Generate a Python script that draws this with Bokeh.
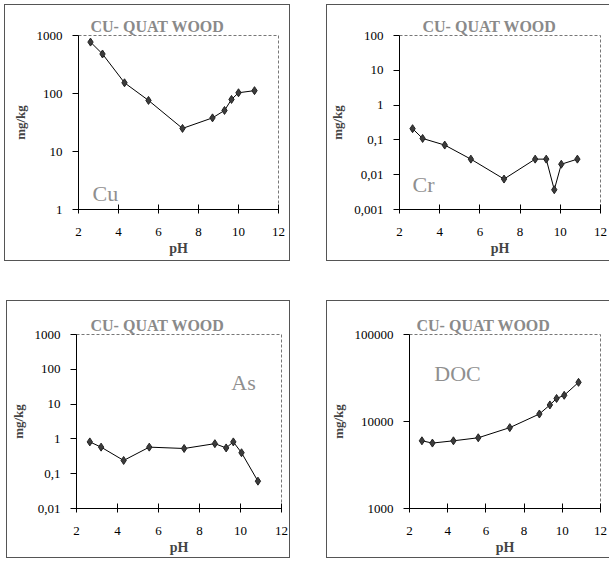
from bokeh.plotting import figure
from bokeh.layouts import column, row
from bokeh.models import Spacer, FixedTicker, Label
from bokeh.embed import file_html
from bokeh.resources import INLINE

TITLE = "CU- QUAT WOOD"
X_TICKS = [2, 4, 6, 8, 10, 12]

ph_cu = [2.6, 3.2, 4.3, 5.5, 7.2, 8.7, 9.3, 9.65, 10.0, 10.8]
cu = [770, 480, 153, 76, 25, 38, 51, 79, 103, 112]

ph_cr = [2.65, 3.15, 4.25, 5.55, 7.2, 8.75, 9.3, 9.7, 10.05, 10.85]
cr = [0.21, 0.11, 0.071, 0.028, 0.0075, 0.028, 0.028, 0.0037, 0.02, 0.028]

ph_as = [2.65, 3.2, 4.3, 5.55, 7.25, 8.75, 9.3, 9.65, 10.05, 10.85]
as_vals = [0.82, 0.58, 0.24, 0.58, 0.53, 0.73, 0.55, 0.82, 0.40, 0.061]

ph_doc = [2.65, 3.2, 4.3, 5.6, 7.25, 8.8, 9.35, 9.7, 10.1, 10.85]
doc = [6000, 5650, 6000, 6500, 8500, 12200, 15500, 18400, 20000, 28200]

cu_ticks = [1, 10, 100, 1000]
cu_labels = ["1", "10", "100", "1000"]
cr_ticks = [0.001, 0.01, 0.1, 1, 10, 100]
cr_labels = ["0,001", "0,01", "0,1", "1", "10", "100"]
as_ticks = [0.01, 0.1, 1, 10, 100, 1000]
as_labels = ["0,01", "0,1", "1", "10", "100", "1000"]
doc_ticks = [1000, 10000, 100000]
doc_labels = ["1000", "10000", "100000"]

SERIF = "'Liberation Serif', 'Times New Roman', serif"


def panel(xs, ys, ticks, labels, elem, ex, ey, w, h, ml, mr, mt, mb, toff, right_open):
    p = figure(width=w, height=h, y_axis_type="log",
               x_range=(2, 12), y_range=(ticks[0], ticks[-1]),
               output_backend="svg", toolbar_location=None,
               min_border_left=ml, min_border_right=mr,
               min_border_top=mt, min_border_bottom=mb)
    p.grid.visible = False
    p.outline_line_color = "#777777"
    p.outline_line_dash = "3 2"
    p.outline_line_width = 1
    p.background_fill_color = "white"
    p.border_fill_color = "white"

    p.title.text = TITLE
    p.title.text_font = SERIF
    p.title.text_font_style = "bold"
    p.title.text_font_size = "16px"
    p.title.text_color = "#8a8a8a"
    p.title.align = "left"
    p.title.offset = toff
    p.title.standoff = 2

    xa = p.xaxis[0]
    xa.ticker = FixedTicker(ticks=X_TICKS)
    xa.minor_tick_line_color = None
    xa.major_tick_in = 5
    xa.major_tick_out = 4
    xa.axis_line_color = "black"
    xa.major_tick_line_color = "black"
    xa.major_label_standoff = 14
    xa.major_label_text_font = SERIF
    xa.major_label_text_font_size = "13px"
    xa.major_label_text_color = "black"
    xa.axis_label = "pH"
    xa.axis_label_text_font = SERIF
    xa.axis_label_text_font_style = "bold"
    xa.axis_label_text_font_size = "14px"
    xa.axis_label_standoff = 2

    ya = p.yaxis[0]
    ya.ticker = FixedTicker(ticks=ticks)
    ya.major_label_overrides = {t: l for t, l in zip(ticks, labels)}
    ya.minor_tick_line_color = None
    ya.major_tick_in = 0
    ya.major_tick_out = 6
    ya.axis_line_color = "black"
    ya.major_tick_line_color = "black"
    ya.major_label_standoff = 10
    ya.major_label_text_font = SERIF
    ya.major_label_text_font_size = "13px"
    ya.major_label_text_color = "black"
    ya.axis_label = "mg/kg"
    ya.axis_label_text_font = SERIF
    ya.axis_label_text_font_style = "bold"
    ya.axis_label_text_font_size = "13px"
    ya.axis_label_standoff = 6

    p.line(xs, ys, line_color="black", line_width=1)
    p.scatter(xs, ys, marker="diamond", size=8, fill_color="#3c3c3c",
              line_color="#222222", line_width=1)

    p.add_layout(Label(x=ex, y=ey, text=elem, text_font=SERIF,
                       text_font_size="22px", text_color="#8f8f8f",
                       text_baseline="alphabetic", text_align="left"))

    if right_open:
        p.styles = {"border-top": "1px solid #555", "border-left": "1px solid #555",
                    "border-bottom": "1px solid #555"}
    else:
        p.styles = {"border": "1px solid #555"}
    return p


p1 = panel(ph_cu, cu, cu_ticks, cu_labels, "Cu", 2.7, 1.9,
           286, 257, 73, 13, 30, 53, 12, False)
p2 = panel(ph_cr, cr, cr_ticks, cr_labels, "Cr", 2.65, 0.0051,
           283, 257, 71, 10, 29, 52, 23, True)
p3 = panel(ph_as, as_vals, as_ticks, as_labels, "As", 9.55, 41,
           284, 258, 69, 10, 33, 49, 14, False)
p4 = panel(ph_doc, doc, doc_ticks, doc_labels, "DOC", 3.3, 36000,
           283, 258, 82, 10, 31, 51, 7, True)

layout = column(
    Spacer(height=4),
    row(Spacer(width=4), p1, Spacer(width=36), p2),
    Spacer(height=39),
    row(Spacer(width=6), p3, Spacer(width=36), p4),
)

open("out.html", "w").write(file_html(layout, INLINE))
